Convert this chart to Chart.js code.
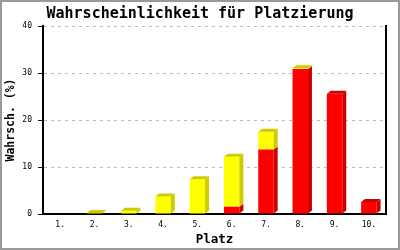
<!DOCTYPE html>
<html>
<head>
<meta charset="utf-8">
<script src="https://cdn.jsdelivr.net/npm/chart.js@4/dist/chart.umd.min.js"></script>
<style>
html,body{margin:0;padding:0;background:#fff;}
canvas{display:block;}
</style>
</head>
<body>
<canvas id="c" width="400" height="250"></canvas>
<script>
const categories = ['1.','2.','3.','4.','5.','6.','7.','8.','9.','10.'];
const redValues = [0, 0, 0, 0, 0, 1.55, 13.7, 30.85, 25.6, 2.55];
const yellowValues = [0, 0.2, 0.7, 3.7, 7.4, 10.65, 3.8, 0.15, 0, 0];
const yTicks = [0, 10, 20, 30, 40];

const MONO = "'DejaVu Sans Mono', 'Liberation Mono', monospace";

const depthPlugin = {
  id: 'depth3d',
  afterDatasetsDraw(chart) {
    const ctx = chart.ctx;
    const dx = 4, dy = 3;
    const sideColors = ['#cc0000', '#cccc00'];
    const n = chart.data.labels.length;
    ctx.save();
    for (let i = 0; i < n; i++) {
      let topEl = null, topIdx = -1;
      chart.data.datasets.forEach((ds, di) => {
        const v = ds.data[i];
        if (!v) return;
        const el = chart.getDatasetMeta(di).data[i];
        const right = el.x + el.width / 2;
        const top = Math.min(el.y, el.base), bottom = Math.max(el.y, el.base);
        ctx.fillStyle = sideColors[di];
        ctx.beginPath();
        ctx.moveTo(right, top);
        ctx.lineTo(right + dx, top - dy);
        ctx.lineTo(right + dx, bottom - dy);
        ctx.lineTo(right, bottom);
        ctx.closePath();
        ctx.fill();
        topEl = el; topIdx = di;
      });
      if (topEl) {
        const left = topEl.x - topEl.width / 2, right = topEl.x + topEl.width / 2;
        const top = Math.min(topEl.y, topEl.base);
        ctx.fillStyle = sideColors[topIdx];
        ctx.beginPath();
        ctx.moveTo(left, top);
        ctx.lineTo(left + dx, top - dy);
        ctx.lineTo(right + dx, top - dy);
        ctx.lineTo(right, top);
        ctx.closePath();
        ctx.fill();
      }
    }
    ctx.restore();
  },
  afterDraw(chart) {
    const ctx = chart.ctx;
    ctx.save();
    ctx.strokeStyle = '#999999';
    ctx.lineWidth = 2;
    ctx.strokeRect(1, 1, chart.width - 2, chart.height - 2);
    ctx.restore();
  }
};

new Chart(document.getElementById('c'), {
  type: 'bar',
  data: {
    labels: categories,
    datasets: [
      { label: 'rot', data: redValues, backgroundColor: '#ff0000', borderWidth: 0, yAxisID: 'y' },
      { label: 'gelb', data: yellowValues, backgroundColor: '#ffff00', borderWidth: 0, yAxisID: 'y' }
    ]
  },
  options: {
    responsive: false,
    animation: false,
    events: [],
    layout: { padding: 0 },
    datasets: { bar: { categoryPercentage: 1, barPercentage: 0.45 } },
    plugins: {
      legend: { display: false },
      tooltip: { enabled: false },
      title: {
        display: true,
        text: 'Wahrscheinlichkeit für Platzierung',
        color: '#000',
        font: { family: MONO, size: 15, weight: 'bold', lineHeight: 1.2 },
        padding: { top: 5, bottom: 3 }
      }
    },
    scales: {
      x: {
        stacked: true,
        grid: { display: false, drawTicks: false },
        border: { display: true, color: '#000', width: 2 },
        ticks: { color: '#000', font: { family: MONO, size: 8 }, padding: 6, maxRotation: 0, autoSkip: false },
        title: { display: true, text: 'Platz', color: '#000', font: { family: MONO, size: 12.5, weight: 'bold', lineHeight: 1.2 }, padding: { top: 0, bottom: 2.5 } },
        afterFit(scale) { scale.height = 36; }
      },
      y: {
        stacked: true,
        min: 0, max: 40,
        afterBuildTicks(scale) { scale.ticks = yTicks.map(v => ({ value: v })); },
        grid: { color: '#bbbbbb', lineWidth: 1, drawTicks: true, tickLength: 5, tickColor: '#000', tickBorderDash: [], tickWidth: 1 },
        border: { display: true, color: '#000', width: 2, dash: [3, 4] },
        ticks: { color: '#000', font: { family: MONO, size: 8 }, padding: 6 },
        title: { display: true, text: 'Wahrsch. (%)', color: '#000', font: { family: MONO, size: 11.5, weight: 'bold', lineHeight: 1.2 }, padding: { top: 4, bottom: 0 } },
        afterFit(scale) { scale.width = 43; }
      },
      y2: {
        position: 'right',
        min: 0, max: 40,
        grid: { drawOnChartArea: false, drawTicks: false },
        border: { display: true, color: '#000', width: 2 },
        ticks: { display: false },
        afterFit(scale) { scale.width = 14; }
      }
    }
  },
  plugins: [depthPlugin]
});
</script>
</body>
</html>
